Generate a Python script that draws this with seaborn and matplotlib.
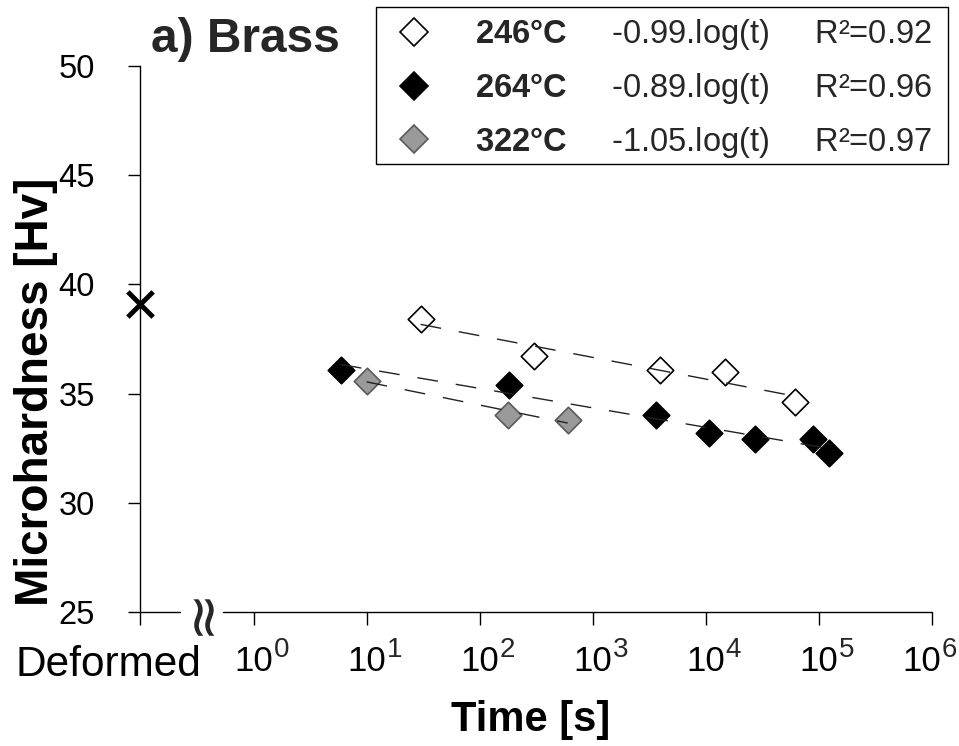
import numpy as np
import pandas as pd
import matplotlib
matplotlib.use("Agg")
import matplotlib.pyplot as plt
import matplotlib.transforms as mtransforms
from matplotlib.lines import Line2D
from matplotlib.patches import Rectangle
from matplotlib.ticker import NullLocator
import seaborn as sns

# ---------------- data ----------------
deformed_label = "Deformed"
deformed_pos = [0.1]
deformed_hv = [39.1]

t_246 = [30, 300, 3900, 14700, 62000]
hv_246 = [38.4, 36.7, 36.1, 36.0, 34.6]

t_264 = [5.9, 180, 3600, 10700, 27000, 89000, 122000]
hv_264 = [36.1, 35.4, 34.0, 33.2, 32.9, 32.9, 32.3]

t_322 = [10, 178, 600]
hv_322 = [35.6, 34.0, 33.8]

series_names = ["246°C", "264°C", "322°C"]
fit_labels = ["-0.99.log(t)", "-0.89.log(t)", "-1.05.log(t)"]
r2_labels = ["R²=0.92", "R²=0.96", "R²=0.97"]
face_colors = ["white", "black", "#9a9a9a"]
edge_colors = ["black", "black", "#5a5a5a"]

x_tick_values = [1, 10, 100, 1e3, 1e4, 1e5, 1e6]
x_tick_bases = ["10", "10", "10", "10", "10", "10", "10"]
x_tick_exponents = ["0", "1", "2", "3", "4", "5", "6"]
y_ticks = [25, 30, 35, 40, 45, 50]

# ---------------- style ----------------
sns.set_theme(style="ticks")
plt.rcParams["font.family"] = ["Liberation Sans", "DejaVu Sans"]
plt.rcParams["mathtext.fontset"] = "custom"
plt.rcParams["mathtext.rm"] = "Liberation Sans"
plt.rcParams["mathtext.bf"] = "Liberation Sans:bold"
plt.rcParams["mathtext.it"] = "Liberation Sans:italic"
plt.rcParams["mathtext.default"] = "regular"

fig = plt.figure(figsize=(9.59, 7.46), dpi=100)
ax = fig.add_axes([0.1465, 0.1796, 0.8253, 0.7319])
ax.set_xscale("log")

all_t = [t_246, t_264, t_322]
all_hv = [hv_246, hv_264, hv_322]
for t, hv, fc, ec in zip(all_t, all_hv, face_colors, edge_colors):
    df = pd.DataFrame({"t": t, "hv": hv})
    sns.regplot(data=df, x="t", y="hv", logx=True, ci=None, scatter=False,
                truncate=True, ax=ax,
                line_kws=dict(color="#222222", lw=1.0, dashes=(15, 13), zorder=3))
    sns.scatterplot(data=df, x="t", y="hv", marker="D", s=182, color=fc,
                    edgecolor=ec, linewidth=1.2, ax=ax, zorder=2, legend=False)

sns.scatterplot(x=deformed_pos, y=deformed_hv, marker="x", s=330, color="black",
                linewidth=3.5, ax=ax, zorder=4, legend=False)
ax.collections[-1].set_clip_on(False)

ax.set_xlim(0.1, 1e6)
ax.set_ylim(25, 50)

ax.set_xticks([deformed_pos[0]] + x_tick_values)
ax.set_xticklabels([deformed_label] + x_tick_bases)
ax.xaxis.set_minor_locator(NullLocator())
ax.set_yticks(y_ticks)
ax.set_yticklabels([str(v) for v in y_ticks])

ax.tick_params(axis="x", length=9, width=1, pad=14.8, labelsize=25, color="black",
               labelcolor="black", direction="out")
ax.tick_params(axis="y", length=9, width=1, pad=24, labelsize=23.5, color="black",
               labelcolor="black", direction="out")

xlabels = ax.get_xticklabels()
dl = xlabels[0]
dl.set_fontsize(30.5)
dl.set_transform(dl.get_transform() +
                 mtransforms.ScaledTranslation(-0.32, 0.0, fig.dpi_scale_trans))
# last power label is pulled inside the figure edge
last = xlabels[-1]
last.set_transform(last.get_transform() +
                   mtransforms.ScaledTranslation(-0.10, 0.0, fig.dpi_scale_trans))

# exponents of the power-of-ten tick labels
n_exp = len(x_tick_values)
for i, (v, e) in enumerate(zip(x_tick_values, x_tick_exponents)):
    dx = 14.3 - (7.2 if i == n_exp - 1 else 0.0)
    ax.annotate(e, xy=(v, 0), xycoords=("data", "axes fraction"),
                xytext=(dx, -32.4), textcoords="offset points",
                ha="left", va="baseline", fontsize=20, annotation_clip=False)

for s in ["top", "right", "bottom"]:
    ax.spines[s].set_visible(False)
ax.spines["left"].set_color("black")
ax.spines["left"].set_linewidth(1.0)

# broken bottom axis
ax.plot([0, 0.0505], [0, 0], transform=ax.transAxes, color="black", lw=1.0,
        clip_on=False)
ax.plot([0.1045, 1], [0, 0], transform=ax.transAxes, color="black", lw=1.0,
        clip_on=False)
ax.text(0.0745, 0.002, "≈", rotation=90, ha="center", va="center",
        transform=ax.transAxes, fontsize=42, family="DejaVu Sans")

ax.set_ylabel("Microhardness [Hv]", fontsize=33, fontweight="bold", color="black")
ax.yaxis.set_label_coords(-0.104, 0.403)
ax.set_xlabel("Time [s]", fontsize=30, fontweight="bold", color="black")
ax.xaxis.set_label_coords(0.493, -0.161)
ax.xaxis.label.set_va("top")

fig.text(151 / 959, 1 - 39 / 746, "a) Brass", fontsize=34.5, fontweight="bold",
         va="center", ha="left")

# legend box and entries
fig.patches.append(Rectangle((376 / 959, 1 - 164 / 746), (948 - 376) / 959,
                             157 / 746, transform=fig.transFigure, fill=False,
                             edgecolor="black", lw=1.0, zorder=5))
handles = [Line2D([], [], ls="none", marker="D", markersize=13.8, mfc=fc,
                  mec=ec, mew=1.2) for fc, ec in zip(face_colors, edge_colors)]
labels = [r"$\mathbf{%s}$     %s     %s" % (n, f, r)
          for n, f, r in zip(series_names, fit_labels, r2_labels)]
leg = ax.legend(handles, labels, loc="upper left",
                bbox_to_anchor=(376 / 959, 1 - 7 / 746),
                bbox_transform=fig.transFigure, fontsize=23.5, frameon=False,
                borderpad=0.32, handlelength=1.66, handletextpad=1.06,
                labelspacing=0.57, borderaxespad=0)

fig.savefig("out.png", dpi=100)
